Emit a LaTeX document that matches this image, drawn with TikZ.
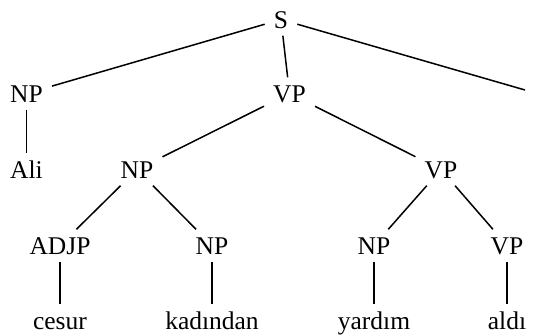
\documentclass[tikz,border=0pt]{standalone}
\usepackage{fontspec}
\setmainfont{Liberation Serif}
\begin{document}
\begin{tikzpicture}[x=1pt,y=-1pt,
  lbl/.style={anchor=base, font=\fontsize{25.5}{30}\selectfont,
    text height=17pt, text depth=0pt, inner xsep=9pt, inner ysep=7.5pt},
  branch/.style={line width=1.5pt}]
\useasboundingbox (0,0) rectangle (536,335);

% level 0
\node[lbl] (s) at (281,28) {S};
% level 1
\node[lbl] (np1) at (26.5,102) {NP};
\node[lbl] (vp1) at (289.5,102) {VP};
\coordinate (rt) at (525,90);
% level 2
\node[lbl] (ali) at (26.5,178) {Ali};
\node[lbl] (np2) at (137,178) {NP};
\node[lbl] (vp2) at (441,178) {VP};
% level 3
\node[lbl] (adjp) at (60,254) {ADJP};
\node[lbl] (np3) at (212,254) {NP};
\node[lbl] (np4) at (374,254) {NP};
\node[lbl] (vp3) at (507,254) {VP};
% words
\node[lbl] (cesur) at (60,329) {cesur};
\node[lbl] (kad) at (212,329) {kadından};
\node[lbl] (yar) at (374,329) {yardım};
\node[lbl] (aldi) at (507,329) {aldı};

% branches
\draw[branch] (s) -- (np1);
\draw[branch] (s) -- (vp1);
\draw[branch] (s) -- (rt);
\draw[branch] (np1) -- (ali);
\draw[branch] (vp1) -- (np2);
\draw[branch] (vp1) -- (vp2);
\draw[branch] (np2) -- (adjp);
\draw[branch] (np2) -- (np3);
\draw[branch] (vp2) -- (np4);
\draw[branch] (vp2) -- (vp3);
\draw[branch] (adjp) -- (cesur);
\draw[branch] (np3) -- (kad);
\draw[branch] (np4) -- (yar);
\draw[branch] (vp3) -- (aldi);
\end{tikzpicture}
\end{document}
